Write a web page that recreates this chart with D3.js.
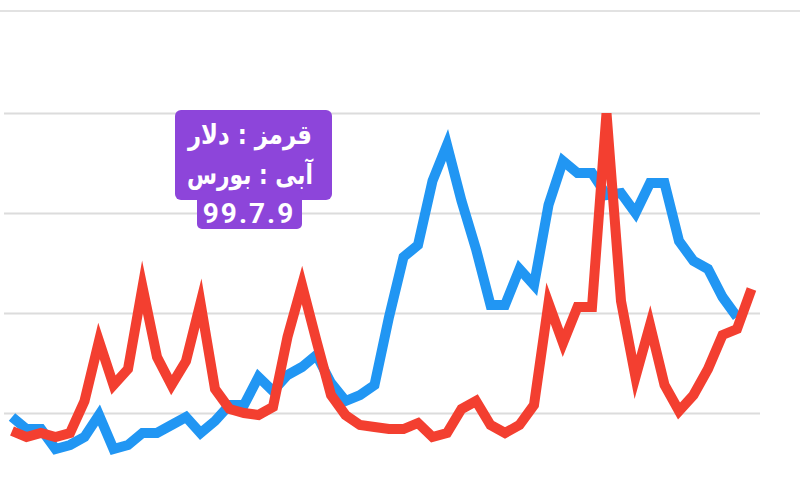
<!DOCTYPE html>
<html>
<head>
<meta charset="utf-8">
<script src="https://cdn.jsdelivr.net/npm/d3@7/dist/d3.min.js"></script>
<style>
  html, body { margin: 0; padding: 0; background: #ffffff; }
  svg { display: block; }
</style>
</head>
<body>
<svg id="chart" width="800" height="503"></svg>
<script>
// ---- data ----
const points = d3.range(52); // 52 weekly samples
const redValues = [20.5, 19, 20, 19, 20, 28, 43, 32, 36, 56.5, 39, 32, 38, 52.5, 31, 26, 25, 24.5, 26.5, 44,
  57, 43, 29.5, 24.5, 22, 21.5, 21, 21, 22.5, 19, 20, 26, 28, 22, 20, 22, 27, 52.5, 42.5, 51.5,
  51.5, 100, 53, 34, 47, 32, 25.5, 29.5, 36, 44.5, 46, 56];
const blueValues = [24, 21, 21, 16, 17, 19, 24.5, 16, 17, 20, 20, 22, 24, 20, 23, 27, 27, 34, 30.5, 34.5,
  36.5, 39.5, 32.5, 28, 29.5, 32, 49, 64, 67, 83, 92, 78, 66, 52, 52, 61, 57, 77, 88, 85,
  85, 79.5, 80, 75, 82.5, 82.5, 68, 63, 61, 54, 49, null];
const gridTicks = [25, 50, 75, 100];
const legendLines = ["قرمز : دلار", "آبی : بورس"];
const dateLabel = "99.7.9";

// ---- layout ----
const svg = d3.select("#chart");
const W = 800, H = 503;
const x = d3.scalePoint().domain(points).range([12, 751.5]);
const y = d3.scaleLinear().domain([0, 100]).range([513, 113]);

// top separator
svg.append("line").attr("x1", 0).attr("x2", W).attr("y1", 11).attr("y2", 11)
  .attr("stroke", "#e2e2e2").attr("stroke-width", 2);

// gridlines via axis
const g = svg.append("g").attr("transform", "translate(4,0)");
g.call(d3.axisLeft(y).tickValues(gridTicks).tickSize(-756).tickFormat(""));
g.select(".domain").remove();
g.selectAll(".tick line").attr("stroke", "#dcdcdc").attr("stroke-width", 2.2);

// clip to the plot area (top at 100)
svg.append("clipPath").attr("id", "plot").append("rect")
  .attr("x", 0).attr("y", y(100)).attr("width", W).attr("height", H - y(100));

const line = (vals) => d3.line()
  .defined((d) => vals[d] !== null)
  .x((d) => x(d))
  .y((d) => y(vals[d]))
  .curve(d3.curveLinear);

const plot = svg.append("g").attr("clip-path", "url(#plot)");
plot.append("path").datum(points)
  .attr("d", line(blueValues))
  .attr("fill", "none").attr("stroke", "#2196f3").attr("stroke-width", 10)
  .attr("stroke-linejoin", "miter").attr("stroke-miterlimit", 10);
plot.append("path").datum(points)
  .attr("d", line(redValues))
  .attr("fill", "none").attr("stroke", "#f33f30").attr("stroke-width", 10)
  .attr("stroke-linejoin", "miter").attr("stroke-miterlimit", 10);

// ---- label badge ----
const purple = "#8d45da";
const badge = svg.append("g");
badge.append("rect").attr("x", 175).attr("y", 110).attr("width", 157).attr("height", 90)
  .attr("rx", 6).attr("fill", purple);
badge.append("rect").attr("x", 197).attr("y", 190).attr("width", 105).attr("height", 39)
  .attr("rx", 5).attr("fill", purple);

badge.selectAll("text.leg").data(legendLines).enter().append("text")
  .attr("class", "leg")
  .attr("x", 250).attr("y", (d, i) => 144 + i * 40)
  .attr("text-anchor", "middle")
  .attr("direction", "rtl")
  .attr("font-family", "DejaVu Sans, sans-serif")
  .attr("font-size", 27)
  .attr("font-weight", "bold")
  .attr("textLength", (d, i) => i === 0 ? 124 : 126)
  .attr("lengthAdjust", "spacingAndGlyphs")
  .attr("fill", "#ffffff")
  .text((d) => d);

badge.append("text")
  .attr("x", 249).attr("y", 223)
  .attr("text-anchor", "middle")
  .attr("font-family", "Roboto, sans-serif")
  .attr("font-size", 28)
  .attr("font-weight", "bold")
  .attr("letter-spacing", 2)
  .attr("fill", "#ffffff")
  .text(dateLabel);
</script>
</body>
</html>
